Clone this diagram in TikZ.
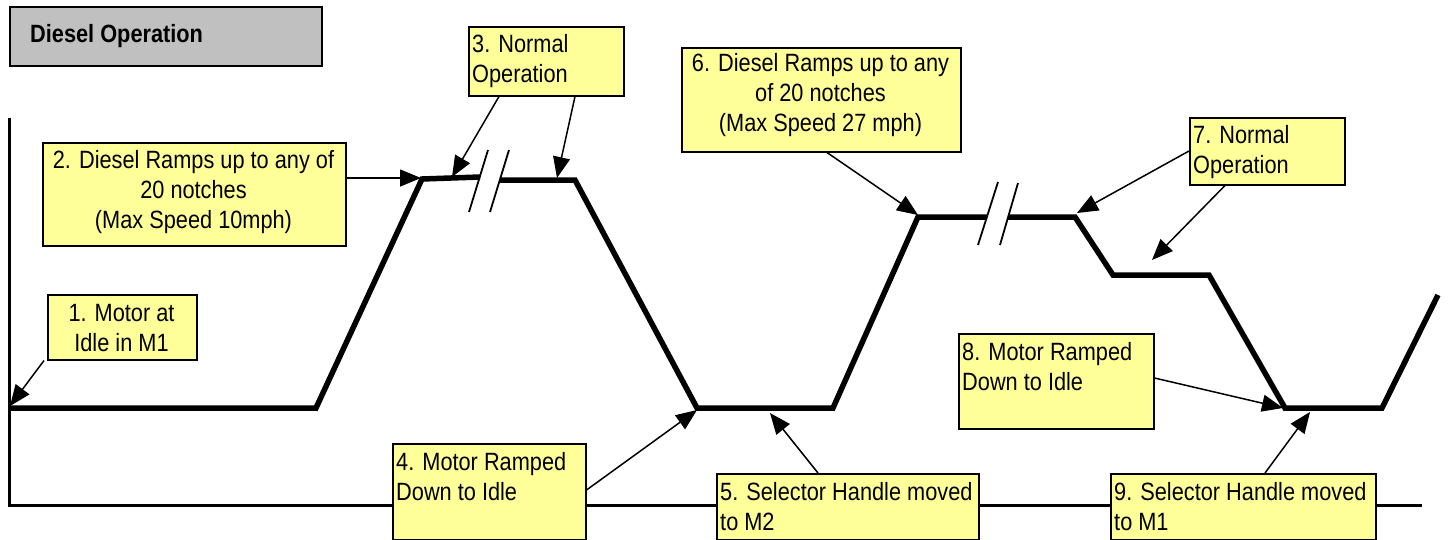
\documentclass[tikz,border=0pt]{standalone}
\usepackage{fontspec}
\setmainfont{Liberation Sans}[FakeStretch=0.87]
\usetikzlibrary{arrows.meta,calc}
\definecolor{noteyellow}{HTML}{FFFF99}
\definecolor{titlegray}{HTML}{C0C0C0}
\begin{document}
\begin{tikzpicture}[x=1pt,y=-1pt,
  ybox/.style={draw=black, line width=1.5pt, fill=noteyellow, inner sep=0pt, anchor=north west},
  gbox/.style={draw=black, line width=2pt, fill=titlegray, inner sep=0pt, anchor=north west},
  txt/.style={font=\fontsize{25}{30}\selectfont, inner sep=0pt},
  curve/.style={line width=5.5pt, line join=miter},
  axisline/.style={line width=3pt},
  callout/.style={line width=1.5pt, -{Triangle[length=21pt,width=17pt]}},
  brk/.style={line width=1.8pt}]
\useasboundingbox (0,0) rectangle (1452,539);

% axes
\coordinate (ytop) at (9,118);
\coordinate (orig) at (9,505);
\coordinate (xend) at (1422,505);
\draw[axisline] (ytop) -- (orig) -- (xend);

% curve vertices
\coordinate (c0) at (9,408);
\coordinate (c1) at (316,408);
\coordinate (c2) at (422,179);
\coordinate (c3) at (480,177);
\coordinate (c4) at (500,180);
\coordinate (c5) at (575,180);
\coordinate (c6) at (697,408);
\coordinate (c7) at (833,408);
\coordinate (c8) at (918,217);
\coordinate (c9) at (987,217);
\coordinate (c10) at (1008,217);
\coordinate (c11) at (1075,217);
\coordinate (c12) at (1113,275);
\coordinate (c13) at (1209,275);
\coordinate (c14) at (1285,408);
\coordinate (c15) at (1382,408);
\coordinate (c16) at (1438,295);

\draw[curve] (c0) -- (c1) -- (c2) -- (c3);
\draw[curve] (c4) -- (c5) -- (c6) -- (c7) -- (c8) -- (c9);
\draw[curve] (c10) -- (c11) -- (c12) -- (c13) -- (c14) -- (c15) -- (c16);

% break marks
\draw[brk] (488,150) -- (469,212);
\draw[brk] (509,150) -- (490,212);
\draw[brk] (998,182) -- (978,245);
\draw[brk] (1018,183) -- (1000,245);

% title
\node[gbox, minimum width=312, minimum height=59] (title) at (9,6) {};
\node[txt, anchor=base west, font=\fontsize{25}{30}\selectfont\bfseries] (titletext) at (30,42) {Diesel Operation};

% boxes (text anchor = baseline of the last line)
\node[ybox, minimum width=149, minimum height=65] (b1) at (47,294) {};
\node[txt, align=center, anchor=base] (t1) at (121.5,351) {1. Motor at\\Idle in M1};

\node[ybox, minimum width=303, minimum height=103] (b2) at (42,142) {};
\node[txt, align=center, anchor=base] (t2) at (193.5,228) {2. Diesel Ramps up to any of\\20 notches\\(Max Speed 10mph)};

\node[ybox, minimum width=155, minimum height=69] (b3) at (468,26) {};
\node[txt, align=left, anchor=base west] (t3) at (472,82) {3. Normal\\Operation};

\node[ybox, minimum width=193, minimum height=96] (b4) at (392,443) {};
\node[txt, align=left, anchor=base west] (t4) at (396,500) {4. Motor Ramped\\Down to Idle};

\node[ybox, minimum width=262, minimum height=66] (b5) at (716,473) {};
\node[txt, align=left, anchor=base west] (t5) at (720,530) {5. Selector Handle moved\\to M2};

\node[ybox, minimum width=279, minimum height=104] (b6) at (681,47) {};
\node[txt, align=center, anchor=base] (t6) at (820.5,131) {6. Diesel Ramps up to any\\of 20 notches\\(Max Speed 27 mph)};

\node[ybox, minimum width=155, minimum height=67] (b7) at (1189,117) {};
\node[txt, align=left, anchor=base west] (t7) at (1193,173) {7. Normal\\Operation};

\node[ybox, minimum width=195, minimum height=95] (b8) at (958,333) {};
\node[txt, align=left, anchor=base west] (t8) at (962,390) {8. Motor Ramped\\Down to Idle};

\node[ybox, minimum width=265, minimum height=66] (b9) at (1110,473) {};
\node[txt, align=left, anchor=base west] (t9) at (1114,530) {9. Selector Handle moved\\to M1};

% arrow tips
\coordinate (a1) at (10,406);
\coordinate (a2) at (421,178);
\coordinate (a3a) at (452,177);
\coordinate (a3b) at (557,178);
\coordinate (a4) at (697,410);
\coordinate (a5) at (770,413);
\coordinate (a6) at (918,215);
\coordinate (a7a) at (1077,213);
\coordinate (a7b) at (1152,260);
\coordinate (a8) at (1283,408);
\coordinate (a9) at (1310,412);

% callouts
\draw[callout] ($(b1.south west)+(-3,0)$) -- (a1);
\draw[callout] ($(b2.north east)+(0,36)$) -- (a2);
\draw[callout] ($(b3.south west)+(31,0)$) -- (a3a);
\draw[callout] ($(b3.south west)+(107,0)$) -- (a3b);
\draw[callout] ($(b4.north east)+(0,47)$) -- (a4);
\draw[callout] ($(b5.north west)+(102,0)$) -- (a5);
\draw[callout] ($(b6.south west)+(146,0)$) -- (a6);
\draw[callout] ($(b7.north west)+(0,34)$) -- (a7a);
\draw[callout] ($(b7.south west)+(36,0)$) -- (a7b);
\draw[callout] ($(b8.north east)+(0,45)$) -- (a8);
\draw[callout] ($(b9.north west)+(155,0)$) -- (a9);
\end{tikzpicture}
\end{document}
